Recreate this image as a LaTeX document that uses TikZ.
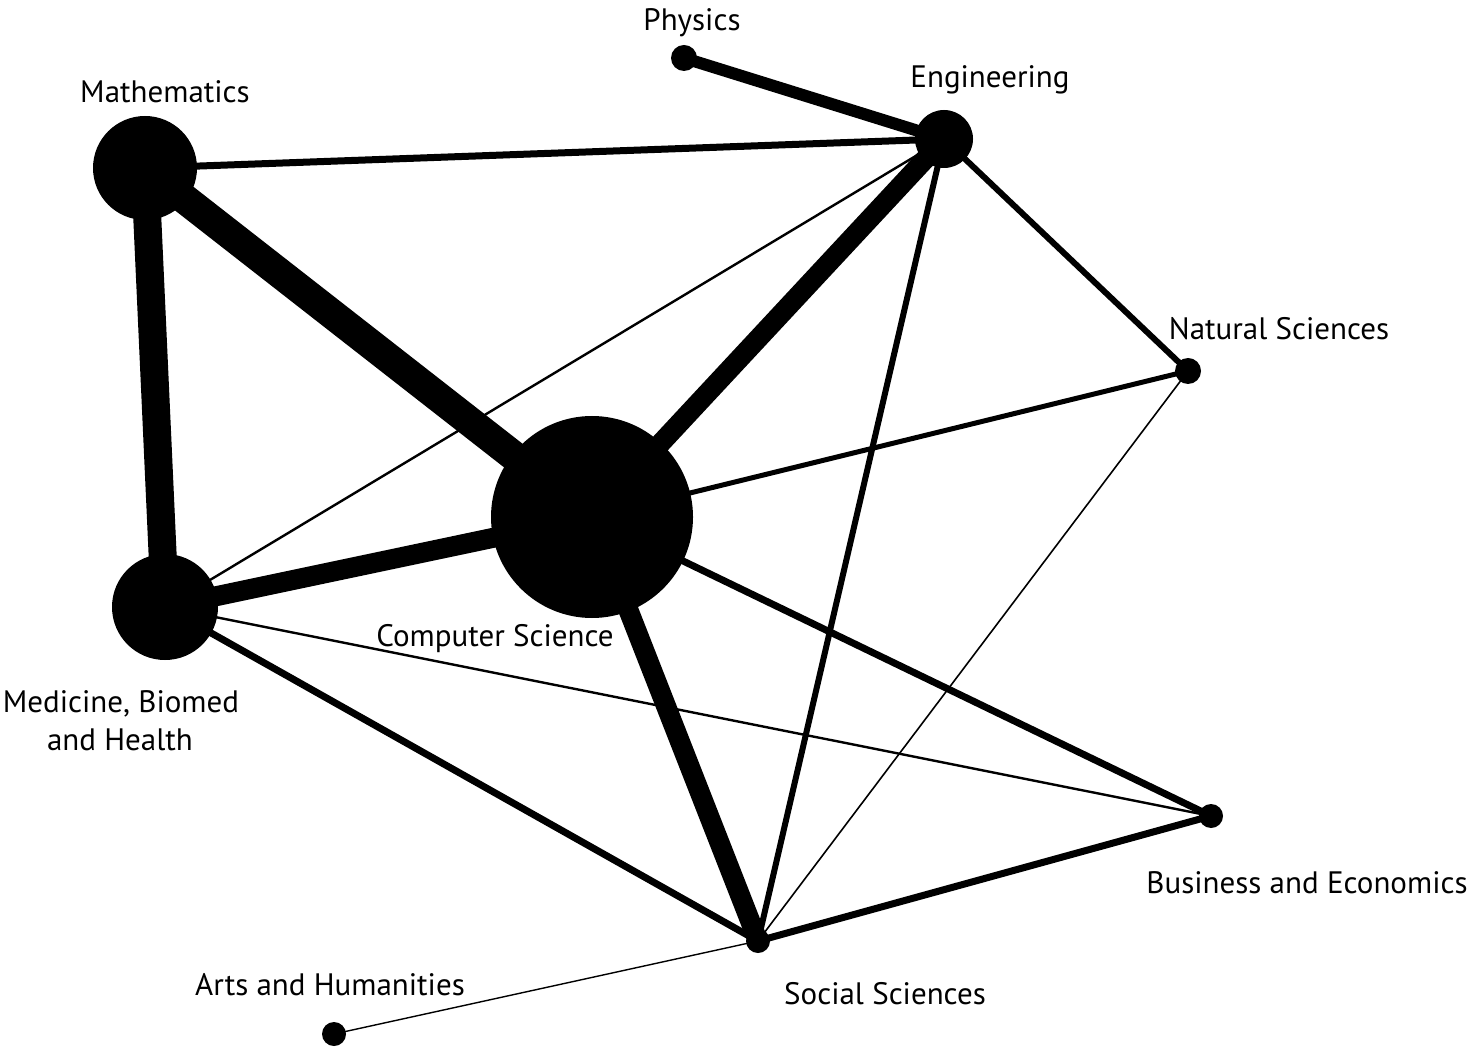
\documentclass[tikz,border=0pt]{standalone}
\usepackage{fontspec}
\setmainfont{PT Sans}
\begin{document}
\begin{tikzpicture}[x=0.5pt,y=-0.5pt,
  dot/.style={circle,fill=black,inner sep=0pt,minimum size=#1},
  lbl/.style={anchor=base,inner sep=0pt,font=\fontsize{15.5}{19}\selectfont},
  e/.style={line width=#1,line cap=butt}]
\useasboundingbox (0,0) rectangle (1475,1052);
% nodes
\node[dot=52pt] (math) at (145,168) {};
\node[dot=53pt] (med)  at (165,607) {};
\node[dot=101pt] (cs)  at (592,517) {};
\node[dot=29pt] (eng)  at (944,139) {};
\node[dot=13pt] (phy)  at (684,58) {};
\node[dot=13pt] (nat)  at (1188,371) {};
\node[dot=12pt] (bus)  at (1211,816) {};
\node[dot=12pt] (soc)  at (758,941) {};
\node[dot=12pt] (art)  at (334,1034) {};
% edges
\draw[e=6pt]   (phy.center) -- (eng.center);
\draw[e=3.5pt] (math.center) -- (eng.center);
\draw[e=15pt]  (math.center) -- (cs.center);
\draw[e=14pt]  (math.center) -- (med.center);
\draw[e=10pt]  (eng.center) -- (cs.center);
\draw[e=1.2pt] (eng.center) -- (med.center);
\draw[e=3pt]   (eng.center) -- (soc.center);
\draw[e=3pt]   (eng.center) -- (nat.center);
\draw[e=2.5pt] (nat.center) -- (cs.center);
\draw[e=0.8pt] (nat.center) -- (soc.center);
\draw[e=10pt]  (cs.center) -- (med.center);
\draw[e=10pt]  (cs.center) -- (soc.center);
\draw[e=3.5pt] (cs.center) -- (bus.center);
\draw[e=3.5pt] (med.center) -- (soc.center);
\draw[e=1.2pt] (med.center) -- (bus.center);
\draw[e=3.5pt] (soc.center) -- (bus.center);
\draw[e=0.7pt] (soc.center) -- (art.center);
% labels
\node[lbl] (lphy)  at (692,31)   {Physics};
\node[lbl] (leng)  at (990,88)   {Engineering};
\node[lbl] (lmath) at (165,103)  {Mathematics};
\node[lbl] (lnat)  at (1279,340) {Natural Sciences};
\node[lbl] (lcs)   at (495,646)  {Computer Science};
\node[lbl] (lmed)  at (121,712)  {Medicine, Biomed};
\node[lbl] (lmed2) at (120,750)  {and Health};
\node[lbl] (lbus)  at (1307,893) {Business and Economics};
\node[lbl] (lsoc)  at (885,1004) {Social Sciences};
\node[lbl] (lart)  at (330,995)  {Arts and Humanities};
\end{tikzpicture}
\end{document}
